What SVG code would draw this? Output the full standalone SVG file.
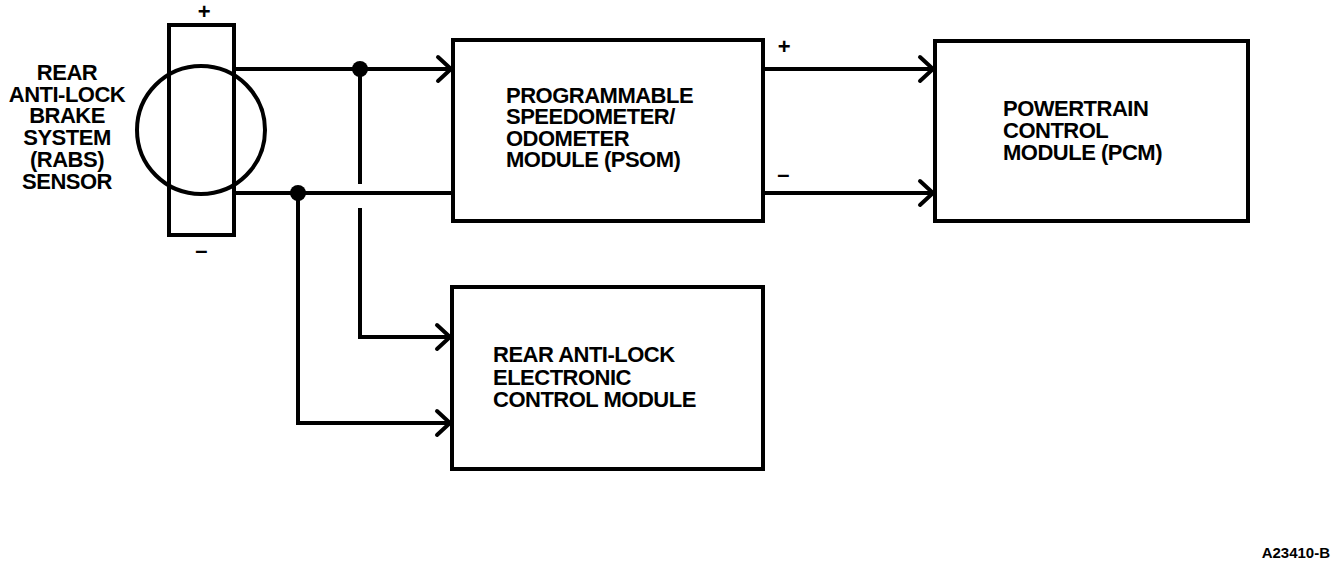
<svg xmlns="http://www.w3.org/2000/svg" width="1344" height="572" viewBox="0 0 1344 572">
<style>
.box{fill:#fff;stroke:#000;stroke-width:4}
.w{fill:none;stroke:#000;stroke-width:4}
.t{font-family:"Liberation Sans",Arial,sans-serif;font-weight:bold;font-size:22px;letter-spacing:-0.5px;fill:#000}
.dot{fill:#000}
</style>
<defs>
<marker id="arr" markerUnits="userSpaceOnUse" markerWidth="20" markerHeight="30" refX="16" refY="13" orient="auto" overflow="visible">
<path d="M3,1 L16,13 L3,25" fill="none" stroke="#000" stroke-width="4" stroke-linecap="round"/>
</marker>
</defs>
<rect width="1344" height="572" fill="#fff"/>
<g id="sensor">
<rect x="169" y="25" width="65" height="210" fill="none" stroke="#000" stroke-width="4"/>
<circle class="w" cx="201" cy="130" r="64"/>
<text class="t" x="67" y="80" text-anchor="middle">REAR</text>
<text class="t" x="67" y="102" text-anchor="middle">ANTI-LOCK</text>
<text class="t" x="67" y="123" text-anchor="middle">BRAKE</text>
<text class="t" x="67" y="145" text-anchor="middle">SYSTEM</text>
<text class="t" x="67" y="167" text-anchor="middle">(RABS)</text>
<text class="t" x="67" y="189" text-anchor="middle">SENSOR</text>
<text class="t" x="204" y="19" text-anchor="middle">+</text>
<text class="t" x="201" y="258" text-anchor="middle">–</text>
</g>
<g id="psom">
<rect class="box" x="453" y="40" width="310" height="181"/>
<text class="t" x="506" y="103">PROGRAMMABLE</text>
<text class="t" x="506" y="124">SPEEDOMETER/</text>
<text class="t" x="506" y="146">ODOMETER</text>
<text class="t" x="506" y="167">MODULE (PSOM)</text>
</g>
<g id="pcm">
<rect class="box" x="935" y="41" width="313" height="180"/>
<text class="t" x="1003" y="116">POWERTRAIN</text>
<text class="t" x="1003" y="138">CONTROL</text>
<text class="t" x="1003" y="160">MODULE (PCM)</text>
</g>
<g id="ecm">
<rect class="box" x="452" y="287" width="311" height="182"/>
<text class="t" x="493" y="362">REAR ANTI-LOCK</text>
<text class="t" x="493" y="385">ELECTRONIC</text>
<text class="t" x="493" y="407">CONTROL MODULE</text>
</g>
<g id="connectors">
<line class="w" x1="236" y1="69" x2="451" y2="69" marker-end="url(#arr)"/>
<line class="w" x1="236" y1="193" x2="451" y2="193"/>
<line class="w" x1="765" y1="69" x2="933" y2="69" marker-end="url(#arr)"/>
<line class="w" x1="765" y1="193" x2="933" y2="193" marker-end="url(#arr)"/>
<line class="w" x1="360" y1="69" x2="360" y2="184"/>
<polyline class="w" points="360,208 360,337 450,337" marker-end="url(#arr)"/>
<polyline class="w" points="298,193 298,423 450,423" marker-end="url(#arr)"/>
<circle class="dot" cx="360" cy="69" r="8"/>
<circle class="dot" cx="298" cy="193" r="8"/>
<text class="t" x="784" y="54" text-anchor="middle">+</text>
<text class="t" x="783" y="182" text-anchor="middle">–</text>
</g>
<text x="1330" y="558" text-anchor="end" font-family="Liberation Sans,Arial,sans-serif" font-weight="bold" font-size="15">A23410-B</text>
</svg>
